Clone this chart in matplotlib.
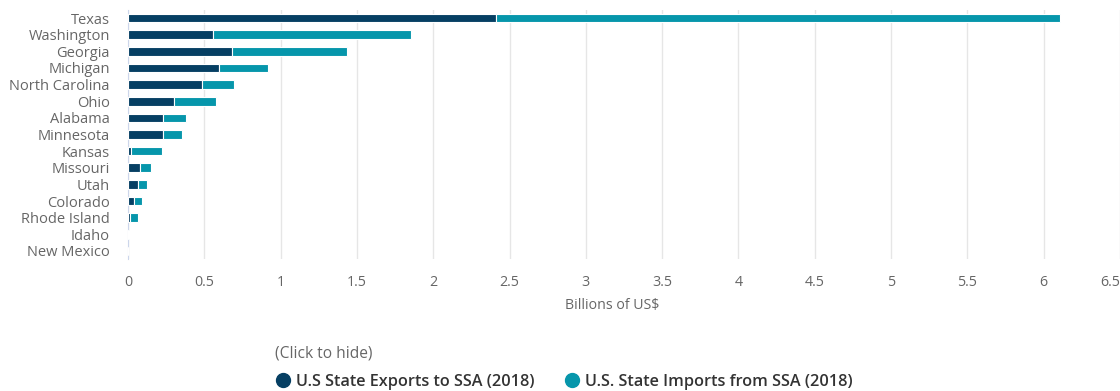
import matplotlib
matplotlib.use("Agg")
import matplotlib.pyplot as plt
from matplotlib.lines import Line2D
import numpy as np

states = ['Texas', 'Washington', 'Georgia', 'Michigan', 'North Carolina', 'Ohio',
          'Alabama', 'Minnesota', 'Kansas', 'Missouri', 'Utah', 'Colorado',
          'Rhode Island', 'Idaho', 'New Mexico']
exports_2018 = [2.41, 0.554, 0.683, 0.596, 0.488, 0.301, 0.226, 0.226, 0.021,
                0.081, 0.063, 0.037, 0.012, 0.002, 0.001]
imports_2018 = [3.70, 1.299, 0.755, 0.318, 0.208, 0.278, 0.157, 0.131, 0.202,
                0.068, 0.059, 0.053, 0.052, 0.002, 0.001]
x_ticks = [0, 0.5, 1, 1.5, 2, 2.5, 3, 3.5, 4, 4.5, 5, 5.5, 6, 6.5]

dark = '#063f63'
teal = '#0696ab'

plt.rcParams['font.family'] = ['Open Sans', 'DejaVu Sans']

fig = plt.figure(figsize=(11.2, 3.91), dpi=100)
ax = fig.add_axes([0.1143, 0.3368, 0.8857, 0.6384])

y = np.arange(len(states))
ax.barh(y, exports_2018, height=0.52, color=dark, edgecolor='white', linewidth=0.8,
        label='U.S State Exports to SSA (2018)', zorder=3)
ax.barh(y, imports_2018, left=exports_2018, height=0.52, color=teal, edgecolor='white',
        linewidth=0.8, label='U.S. State Imports from SSA (2018)', zorder=3)

ax.set_ylim(len(states) - 0.5, -0.5)
ax.set_xlim(0, 6.5)
ax.set_yticks(y)
ax.set_yticklabels(states)
ax.set_xticks(x_ticks)
ax.set_xticklabels([f'{t:g}' for t in x_ticks])
ax.tick_params(axis='both', length=0, labelcolor='#666666')
ax.tick_params(axis='x', pad=11, labelsize=10.3)
ax.tick_params(axis='y', pad=13, labelsize=10.5)
ax.get_xticklabels()[-1].set_horizontalalignment('right')

ax.grid(axis='x', color='#e6e6e6', linewidth=1, zorder=0)
for side in ['top', 'right', 'bottom']:
    ax.spines[side].set_visible(False)
ax.spines['left'].set_color('#ccd6eb')

ax.set_xlabel('Billions of US$', fontsize=10.2, color='#666666')
ax.xaxis.set_label_coords((612 - 128) / 992, -0.155)

handles = [Line2D([], [], marker='o', linestyle='', markersize=10, color=dark),
           Line2D([], [], marker='o', linestyle='', markersize=10, color=teal)]
leg = fig.legend(handles, ['U.S State Exports to SSA (2018)', 'U.S. State Imports from SSA (2018)'],
                 loc='upper left', bbox_to_anchor=(0.2455, 0.116), ncol=2, frameon=False,
                 title='(Click to hide)', alignment='left', fontsize=11.7,
                 handletextpad=0.3, columnspacing=1.8, borderaxespad=0, borderpad=0,
                 handlelength=1.0, labelspacing=0.75)
leg.get_title().set_color('#666666')
leg.get_title().set_fontsize(11.2)
for t in leg.get_texts():
    t.set_color('#333333')
    t.set_fontweight('semibold')

fig.savefig('out.png', dpi=100)
